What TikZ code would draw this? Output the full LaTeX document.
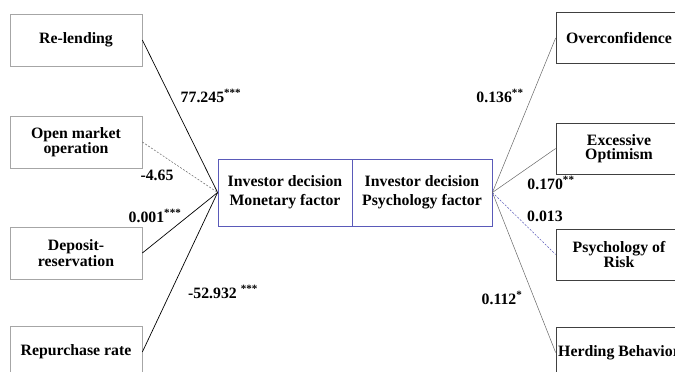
\documentclass[tikz,border=0pt]{standalone}
\usepackage{fontspec}
\setmainfont{Liberation Serif}
\begin{document}
\begin{tikzpicture}[x=1pt,y=-1pt,
  every node/.style={font=\fontsize{15.8}{14}\selectfont\bfseries, inner sep=0pt},
  leftbox/.style={draw=black!35, line width=0.7pt, minimum width=132pt, minimum height=52pt, align=center},
  rightbox/.style={draw=black!75, line width=0.7pt, minimum width=126pt, minimum height=51pt, align=center},
  midbox/.style={line width=0.8pt, minimum height=67pt, align=center, font=\fontsize{15.8}{19}\selectfont\bfseries},
  lefline/.style={black, line width=0.7pt},
  rightline/.style={black!60, line width=0.5pt},
  coef/.style={anchor=center}
]
\useasboundingbox (0,0) rectangle (675,372);
\clip (0,0) rectangle (675,372);
\definecolor{midblue}{RGB}{90,90,185}
% left boxes
\node[leftbox] (rl) at (76,40) {Re-lending};
\node[leftbox] (om) at (76,142) {Open market\\operation};
\node[leftbox] (dr) at (76,253) {Deposit-\\reservation};
\node[leftbox] (rr) at (76,352) {Repurchase rate};
% middle boxes
\node[midbox, draw=midblue, minimum width=134pt] (mon) at (285,192.5) {Investor decision\\Monetary factor};
\node[midbox, draw=midblue, minimum width=140pt] (psy) at (422,192.5) {Investor decision\\Psychology factor};
% right boxes
\node[rightbox] (oc) at (619,38) {Overconfidence};
\node[rightbox] (eo) at (619,148.5) {Excessive\\Optimism};
\node[rightbox] (pr) at (619,254.5) {Psychology of\\Risk};
\node[rightbox] (hb) at (619,352.5) {Herding Behavior};
% connectors left
\draw[lefline] (rl.east) -- (mon.west);
\draw[black!60, line width=0.5pt, dash pattern=on 2pt off 1.5pt] (om.east) -- (mon.west);
\draw[lefline] (dr.east) -- (mon.west);
\draw[lefline] (rr.east) -- (mon.west);
% connectors right
\draw[rightline] (psy.east) -- (oc.west);
\draw[rightline] (psy.east) -- (eo.west);
\draw[midblue, line width=0.5pt, dash pattern=on 2pt off 1.5pt] (psy.east) -- (pr.west);
\draw[rightline] (psy.east) -- (hb.west);
% coefficients
\node[coef] (c1) at (211,96) {77.245\textsuperscript{***}};
\node[coef] (c2) at (157,175) {-4.65};
\node[coef] (c3) at (155,216) {0.001\textsuperscript{***}};
\node[coef] (c4) at (223,292) {-52.932 \textsuperscript{***}};
\node[coef] (c5) at (500,96) {0.136\textsuperscript{**}};
\node[coef] (c6) at (551,183) {0.170\textsuperscript{**}};
\node[coef] (c7) at (545,216) {0.013};
\node[coef] (c8) at (502,298) {0.112\textsuperscript{*}};
\end{tikzpicture}
\end{document}
